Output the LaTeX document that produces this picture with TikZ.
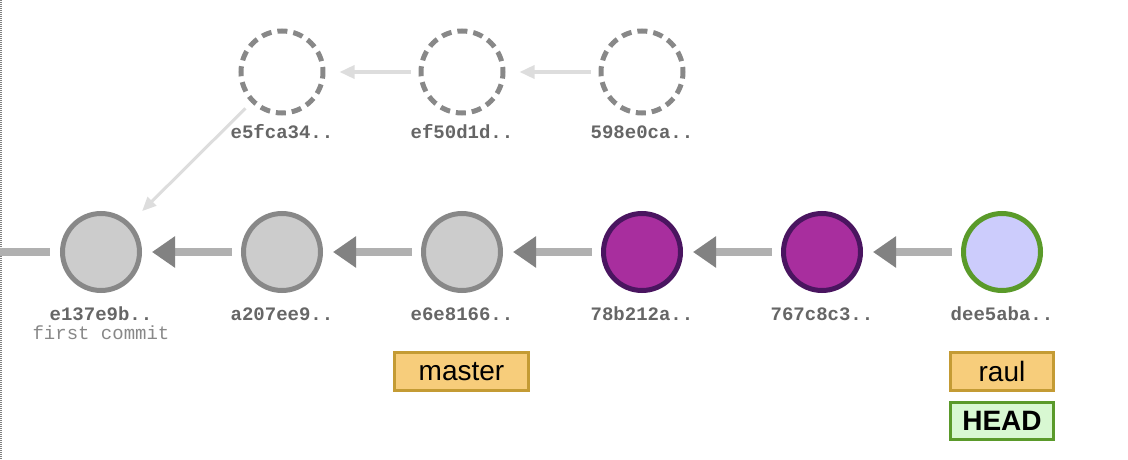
\documentclass[tikz,border=0pt]{standalone}
\usepackage{fontspec}
\setmainfont{Liberation Sans}
\setsansfont{Liberation Sans}
\setmonofont{Liberation Mono}
\usetikzlibrary{arrows.meta}
\definecolor{cgfill}{HTML}{CCCCCC}
\definecolor{cgline}{HTML}{888888}
\definecolor{cpfill}{HTML}{A82E9E}
\definecolor{cpline}{HTML}{4A1560}
\definecolor{cbfill}{HTML}{CCCCFC}
\definecolor{cgreen}{HTML}{5A9A2A}
\definecolor{carrow}{HTML}{B0B0B0}
\definecolor{ctip}{HTML}{828282}
\definecolor{cghost}{HTML}{DDDDDD}
\definecolor{chash}{HTML}{666666}
\definecolor{cmsg}{HTML}{888888}
\definecolor{cbrfill}{HTML}{F7CD7B}
\definecolor{cbrline}{HTML}{C49B34}
\definecolor{chfill}{HTML}{D8F8D2}
\tikzset{
  commit/.style={circle, line width=5pt, minimum size=77pt, inner sep=0pt},
  oldc/.style={commit, draw=cgline, fill=cgfill},
  newc/.style={commit, draw=cpline, fill=cpfill},
  headc/.style={commit, draw=cgreen, fill=cbfill},
  ghost/.style={circle, line width=5pt, minimum size=82pt, inner sep=0pt, draw=cgline, dash pattern=on 10pt off 6pt, dash phase=5pt},
  hash/.style={anchor=base, font=\ttfamily\bfseries\fontsize{19}{19}\selectfont, text=chash},
  msg/.style={anchor=base, font=\ttfamily\fontsize{19}{19}\selectfont, text=cmsg},
  parentarrow/.style={line width=8pt, draw=carrow, -{Triangle[length=23pt,width=30pt,color=ctip]}, shorten <=9pt, shorten >=10pt},
  ghostarrow/.style={line width=3.5pt, draw=cghost, -{Triangle[length=15pt,width=13pt]}, shorten <=8pt, shorten >=14pt},
  branch/.style={rectangle, line width=3pt, minimum height=38pt, inner sep=0pt, font=\sffamily\fontsize{28}{28}\selectfont, draw=cbrline, fill=cbrfill},
  headbox/.style={branch, draw=cgreen, fill=chfill, font=\sffamily\bfseries\fontsize{28}{28}\selectfont}
}
\begin{document}
\begin{tikzpicture}[x=1pt,y=-1pt]
\useasboundingbox (0,0) rectangle (1128,460);
\draw[draw=gray, line width=2pt, dash pattern=on 1pt off 1pt] (1,0) -- (1,460);
% main row
\node[oldc] (c1) at (101,252) {};
\node[oldc] (c2) at (282,252) {};
\node[oldc] (c3) at (462,252) {};
\node[newc] (c4) at (642,252) {};
\node[newc] (c5) at (822,252) {};
\node[headc] (c6) at (1002,252) {};
% ghost row
\node[ghost] (g1) at (282,72) {};
\node[ghost] (g2) at (462,72) {};
\node[ghost] (g3) at (642,72) {};
% labels
\node[hash] (h1) at (101,320) {e137e9b..};
\node[msg] (m1) at (101,339) {first commit};
\node[hash] (h2) at (282,320) {a207ee9..};
\node[hash] (h3) at (462,320) {e6e8166..};
\node[hash] (h4) at (642,320) {78b212a..};
\node[hash] (h5) at (822,320) {767c8c3..};
\node[hash] (h6) at (1002,320) {dee5aba..};
\node[hash] (hg1) at (282,139) {e5fca34..};
\node[hash] (hg2) at (462,139) {ef50d1d..};
\node[hash] (hg3) at (642,139) {598e0ca..};
% arrows
\coordinate (left) at (0,252);
\draw[line width=8pt, draw=carrow, shorten >=10pt] (left) -- (c1);
\draw[parentarrow] (c2) -- (c1);
\draw[parentarrow] (c3) -- (c2);
\draw[parentarrow] (c4) -- (c3);
\draw[parentarrow] (c5) -- (c4);
\draw[parentarrow] (c6) -- (c5);
\draw[ghostarrow] (g2) -- (g1);
\draw[ghostarrow] (g3) -- (g2);
\draw[line width=3pt, draw=cghost, -{Triangle[length=14pt,width=12pt]}, shorten <=8pt, shorten >=17pt] (g1) -- (c1);
% branches
\node[branch, minimum width=134pt] (master) at (461.5,371.5) {master};
\node[branch, minimum width=103pt] (raul) at (1002,371.5) {raul};
\node[headbox, minimum width=103pt, minimum height=37pt] (head) at (1002,421) {HEAD};
\end{tikzpicture}
\end{document}
